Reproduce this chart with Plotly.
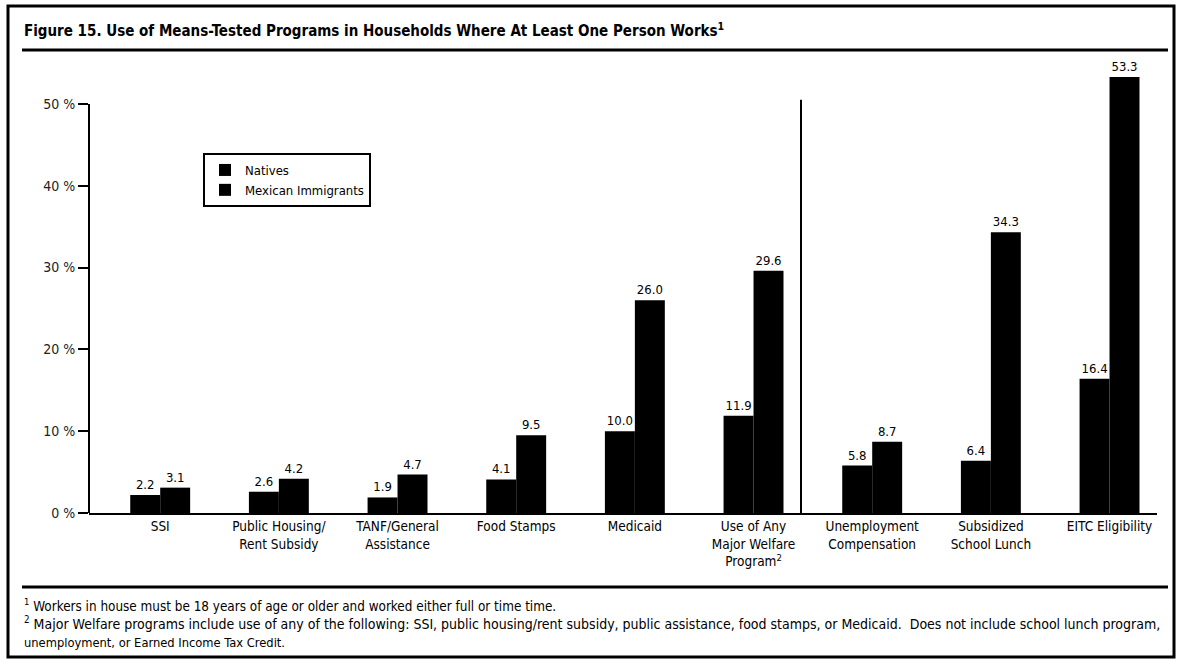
import plotly.graph_objects as go

categories = [
    "SSI",
    "Public Housing/<br>Rent Subsidy",
    "TANF/General<br>Assistance",
    "Food Stamps",
    "Medicaid",
    "Use of Any<br>Major Welfare<br>Program<sup>2</sup>",
    "Unemployment<br>Compensation",
    "Subsidized<br>School Lunch",
    "EITC Eligibility",
]
natives = [2.2, 2.6, 1.9, 4.1, 10.0, 11.9, 5.8, 6.4, 16.4]
mexican = [3.1, 4.2, 4.7, 9.5, 26.0, 29.6, 8.7, 34.3, 53.3]
y_ticks = [0, 10, 20, 30, 40, 50]
y_tick_labels = ["0 %", "10 %", "20 %", "30 %", "40 %", "50 %"]

FONT = "DejaVu Sans Condensed, Liberation Sans Narrow, Arial Narrow, sans-serif"
W, H = 1182, 661
L, R, T, B = 89, 25, 63, 148
PW, PH = W - L - R, H - T - B


def px(x):
    return (x - L) / PW


def py(y):
    return (H - B - y) / PH


xs = list(range(len(categories)))
fig = go.Figure()
fig.add_trace(go.Bar(
    x=xs, y=natives, name="Natives", marker=dict(color="black", line=dict(width=0)),
    text=[f"{v:.1f}" for v in natives], textposition="outside",
    textfont=dict(family=FONT, size=13, color="black"), cliponaxis=False,
))
fig.add_trace(go.Bar(
    x=xs, y=mexican, name="Mexican Immigrants", marker=dict(color="black", line=dict(width=0)),
    text=[f"{v:.1f}" for v in mexican], textposition="outside",
    textfont=dict(family=FONT, size=13, color="black"), cliponaxis=False,
))

shapes = [
    # outer border
    dict(type="rect", xref="paper", yref="paper", x0=px(8), x1=px(1174), y0=py(657), y1=py(6),
         line=dict(color="black", width=3)),
    # title underline
    dict(type="line", xref="paper", yref="paper", x0=px(22), x1=px(1168), y0=py(50), y1=py(50),
         line=dict(color="black", width=3)),
    # bottom rule above footnotes
    dict(type="line", xref="paper", yref="paper", x0=px(22), x1=px(1168), y0=py(587), y1=py(587),
         line=dict(color="black", width=3)),
    # y axis line up to 50%
    dict(type="line", xref="paper", yref="y", x0=0, x1=0, y0=0, y1=50,
         line=dict(color="black", width=2)),
    # separator
    dict(type="line", xref="x", yref="y", x0=5.4, x1=5.4, y0=0, y1=50.5,
         line=dict(color="black", width=2)),
]

annotations = [
    dict(text="<b>Figure 15. Use of Means-Tested Programs in Households Where At Least One Person Works<sup>1</sup></b>",
         xref="paper", yref="paper", x=px(22), y=py(30), xanchor="left", yanchor="middle",
         showarrow=False, font=dict(family=FONT, size=15, color="black")),
    dict(text="<sup>1</sup> Workers in house must be 18 years of age or older and worked either full or time time.",
         xref="paper", yref="paper", x=px(22), y=py(605), xanchor="left", yanchor="middle",
         showarrow=False, font=dict(family=FONT, size=13.4, color="black")),
    dict(text="<sup>2</sup> Major Welfare programs include use of any of the following: SSI, public housing/rent subsidy, public assistance, food stamps, or Medicaid.  Does not include school lunch program,",
         xref="paper", yref="paper", x=px(22), y=py(623), xanchor="left", yanchor="middle",
         showarrow=False, font=dict(family=FONT, size=14, color="black")),
    dict(text="unemployment, or Earned Income Tax Credit.",
         xref="paper", yref="paper", x=px(22), y=py(642), xanchor="left", yanchor="middle",
         showarrow=False, font=dict(family=FONT, size=12.8, color="black")),
]

fig.update_layout(
    width=W, height=H,
    margin=dict(l=L, r=R, t=T, b=B, autoexpand=False),
    paper_bgcolor="white", plot_bgcolor="white",
    barmode="group", bargap=0.495, bargroupgap=0,
    font=dict(family=FONT, color="black"),
    shapes=shapes, annotations=annotations,
    legend=dict(x=px(203), y=py(153), xanchor="left", yanchor="top",
                bordercolor="black", borderwidth=2, bgcolor="white",
                font=dict(family=FONT, size=13, color="black"),
                tracegroupgap=0, itemwidth=30),
    xaxis=dict(range=[-0.6, 8.4], tickmode="array", tickvals=xs, ticktext=categories,
               showline=True, linecolor="black", linewidth=2, showgrid=False, zeroline=False,
               ticks="", tickfont=dict(family=FONT, size=13.5, color="black")),
    yaxis=dict(range=[0, 55], tickmode="array", tickvals=y_ticks, ticktext=y_tick_labels,
               showline=False, showgrid=False, zeroline=False, ticks="outside", ticklen=10,
               tickwidth=2, tickcolor="black",
               tickfont=dict(family=FONT, size=14, color="#222222")),
)

fig.write_html("out.html")
